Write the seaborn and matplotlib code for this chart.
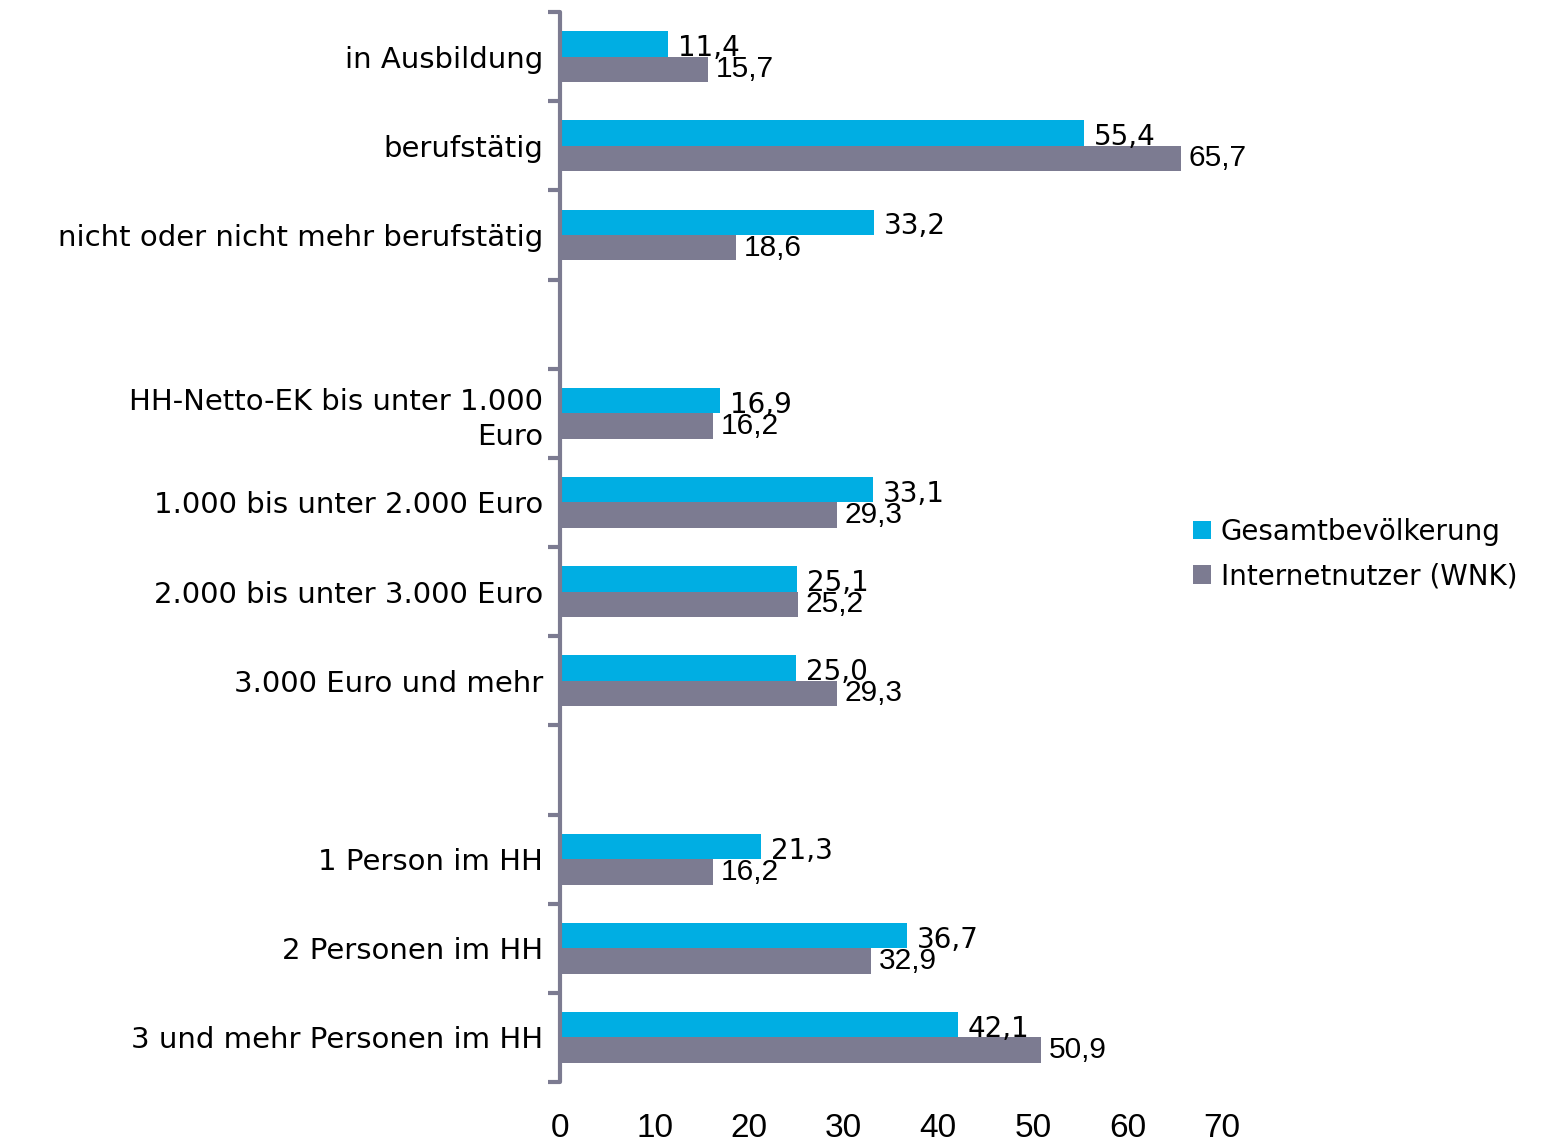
import numpy as np
import pandas as pd
import seaborn as sns
import matplotlib.pyplot as plt

# Data
categories = ["in Ausbildung", "berufstätig", "nicht oder nicht mehr berufstätig",
              "HH-Netto-EK bis unter 1.000\nEuro", "1.000 bis unter 2.000 Euro",
              "2.000 bis unter 3.000 Euro", "3.000 Euro und mehr",
              "1 Person im HH", "2 Personen im HH", "3 und mehr Personen im HH"]
gesamt = [11.4, 55.4, 33.2, 16.9, 33.1, 25.1, 25.0, 21.3, 36.7, 42.1]
internet = [15.7, 65.7, 18.6, 16.2, 29.3, 25.2, 29.3, 16.2, 32.9, 50.9]
series = ["Gesamtbevölkerung", "Internetnutzer (WNK)"]
# empty slots between the groups
order = categories[:3] + ["_gap1"] + categories[3:7] + ["_gap2"] + categories[7:]
xticks = [0, 10, 20, 30, 40, 50, 60, 70]

blue = "#00AEE3"
grey = "#7C7B91"

df = pd.DataFrame({
    "Kategorie": categories * 2,
    "Wert": gesamt + internet,
    "Gruppe": [series[0]] * len(categories) + [series[1]] * len(categories),
})

sns.set_style("white")
plt.rcParams["font.family"] = ["DejaVu Sans"]
plt.rcParams["text.color"] = "black"

fig = plt.figure(figsize=(15.51, 11.45), dpi=100)
ax = fig.add_axes([560 / 1551, 0.0550, (1222 - 560) / 1551, 0.9345])

sns.barplot(data=df, y="Kategorie", x="Wert", hue="Gruppe", order=order,
            hue_order=series, palette=[blue, grey], orient="h",
            width=0.57, errorbar=None, saturation=1, linewidth=0, ax=ax)

# value labels
def fmt(v):
    if np.isnan(v):
        return ""
    return f"{v:.1f}".replace(".", ",")

labs = ax.bar_label(ax.containers[0], fmt=fmt, padding=7, fontsize=20, color="black")
for t in labs:
    t.xyann = (7, -3)
ax.bar_label(ax.containers[1], fmt=fmt, padding=5.5, fontsize=21.5,
             family="Liberation Sans", color="black")

# axes
ax.set_xlim(0, 70)
ax.set_ylim(len(order) - 0.5, -0.5)
ax.set_xticks(xticks)
ax.set_xticklabels([str(v) for v in xticks], family=["Liberation Sans Narrow", "Liberation Sans"],
                   fontsize=24, color="black")
ax.tick_params(axis="x", length=0, pad=22)
ax.set_yticks(range(len(order)))
ax.set_yticklabels([c if not c.startswith("_gap") else "" for c in order],
                   fontsize=21, linespacing=1.3, color="black")
ax.set_yticks(np.arange(-0.5, len(order), 1), minor=True)
ax.tick_params(axis="y", which="major", left=False, length=0, pad=12)
ax.tick_params(axis="y", which="minor", left=True, length=8.5, width=3, color=grey,
               direction="out")
ax.set_xlabel("")
ax.set_ylabel("")
for s in ["top", "right", "bottom"]:
    ax.spines[s].set_visible(False)
ax.spines["left"].set_color(grey)
ax.spines["left"].set_linewidth(3)
ax.spines["left"].set_capstyle("round")
ax.grid(False)

# legend
ax.legend(loc="center left", bbox_to_anchor=(1193 / 1551, 1 - 554 / 1145),
          bbox_transform=fig.transFigure, frameon=False, fontsize=20,
          handlelength=0.65, handleheight=0.65, handletextpad=0.35,
          labelspacing=0.6, borderpad=0, borderaxespad=0)

plt.savefig("out.png", dpi=100)
